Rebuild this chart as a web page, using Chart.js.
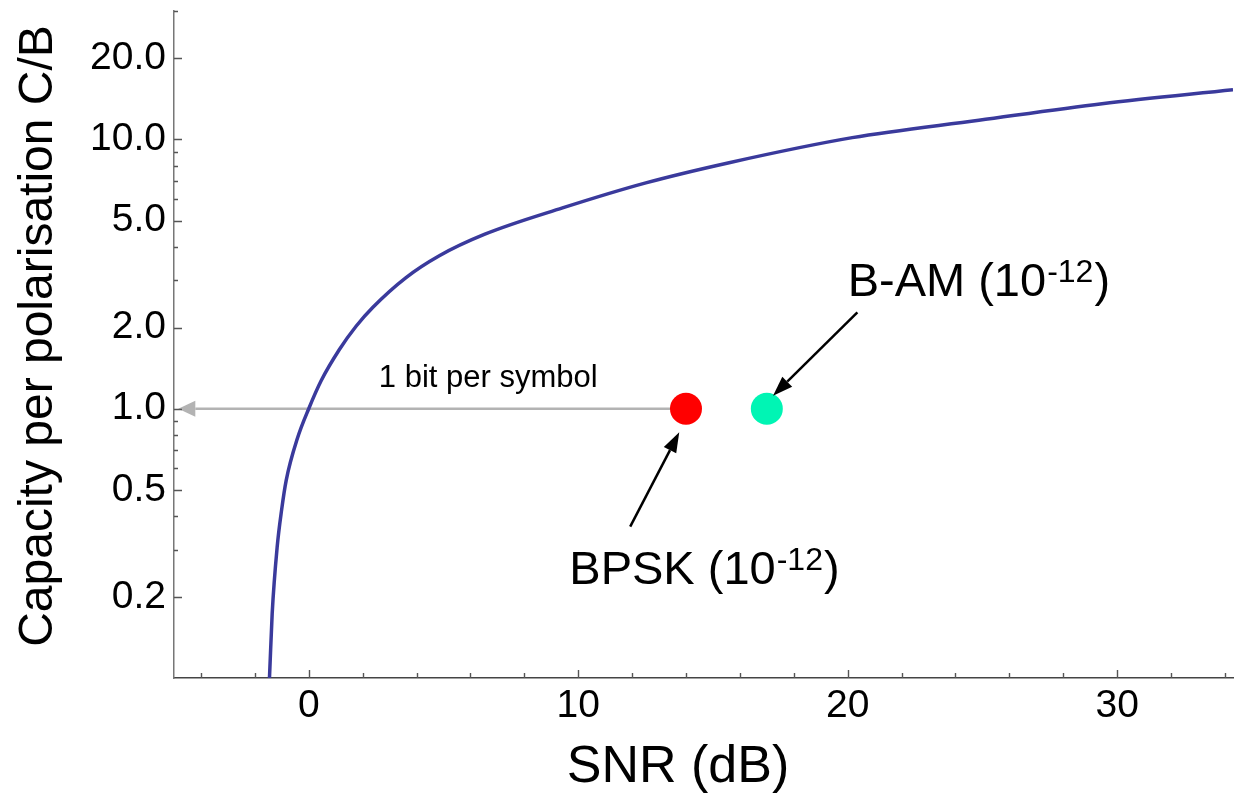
<!DOCTYPE html>
<html>
<head>
<meta charset="utf-8">
<title>Capacity per polarisation vs SNR</title>
<script src="https://cdn.jsdelivr.net/npm/chart.js@4.4.1/dist/chart.umd.min.js"></script>
<style>
    html, body { margin: 0; padding: 0; background: #fff; }
</style>
</head>
<body>
<canvas id="capacityChart" width="1234" height="810"></canvas>
<script>
// Capacity curve, SNR in dB against C/B (log axis)
const snrDb = [-1.52, -1.457, -1.357, -1.172, -1.005, -0.838, -0.419, 0.00, 0.46, 1.138, 1.757, 2.373, 3.611, 4.846, 6.515, 9.418, 12.51, 15.60, 20.17, 24.87, 29.44, 34.30];
const capacity = [0.075, 0.10, 0.173, 0.306, 0.422, 0.541, 0.777, 1.00, 1.27, 1.659, 2.024, 2.377, 3.07, 3.70, 4.44, 5.57, 6.90, 8.20, 10.16, 11.79, 13.58, 15.29];

// Modulation points at 1 bit per symbol
const pointNames = ['BPSK', 'B-AM'];
const pointSnr = [14, 17];
const pointCap = [1, 1];
const pointColors = ['#ff0000', '#00f5b4'];

// Axis ticks
const xMajorTicks = [0, 10, 20, 30];
const xMinorTicks = [-4, -2, 2, 4, 6, 8, 12, 14, 16, 18, 22, 24, 26, 28, 32, 34];
const yMajorTicks = [0.2, 0.5, 1, 2, 5, 10, 20];
const yMinorTicks = [0.3, 0.4, 0.6, 0.7, 0.8, 0.9, 3, 4, 6, 7, 8, 9, 30];

const FONT = '"Liberation Sans", Arial, Helvetica, sans-serif';

// "1 bit per symbol" arrow back to the axis
const bitArrow = { from: [14, 1], to: [-4.84, 1], label: '1 bit per symbol', labelAt: [6.66, 1.207] };

// Labelled pointers to the two modulation points
const pointers = [
    { text: 'B-AM (10', sup: '-12', tail: ')', textAt: [20.0, 2.63], from: [20.36, 2.28], to: [17.23, 1.117] },
    { text: 'BPSK (10', sup: '-12', tail: ')', textAt: [9.67, 0.224], from: [11.93, 0.365], to: [13.75, 0.817] }
];

function drawArrow(ctx, x1, y1, x2, y2, color, width, headLen, headHalf) {
    const ang = Math.atan2(y2 - y1, x2 - x1);
    const bx = x2 - headLen * Math.cos(ang);
    const by = y2 - headLen * Math.sin(ang);
    ctx.save();
    ctx.strokeStyle = color;
    ctx.lineWidth = width;
    ctx.beginPath();
    ctx.moveTo(x1, y1);
    ctx.lineTo(bx, by);
    ctx.stroke();
    ctx.fillStyle = color;
    ctx.beginPath();
    ctx.moveTo(x2, y2);
    ctx.lineTo(bx + headHalf * Math.sin(ang), by - headHalf * Math.cos(ang));
    ctx.lineTo(bx - headHalf * Math.sin(ang), by + headHalf * Math.cos(ang));
    ctx.closePath();
    ctx.fill();
    ctx.restore();
}

function drawSupLabel(ctx, x, y, item) {
    ctx.save();
    ctx.fillStyle = '#000';
    ctx.textAlign = 'left';
    ctx.textBaseline = 'alphabetic';
    ctx.font = '47px ' + FONT;
    ctx.fillText(item.text, x, y);
    let w = ctx.measureText(item.text).width + 1;
    ctx.font = '32px ' + FONT;
    ctx.fillText(item.sup, x + w, y - 14);
    w += ctx.measureText(item.sup).width + 1;
    ctx.font = '47px ' + FONT;
    ctx.fillText(item.tail, x + w, y);
    ctx.restore();
}

// Inward tick marks, like a framed scientific plot
const inwardTicks = {
    id: 'inwardTicks',
    afterDraw(chart) {
        const { ctx, chartArea, scales: { x, y } } = chart;
        ctx.save();
        ctx.strokeStyle = '#555';
        ctx.lineWidth = 1.4;
        ctx.beginPath();
        xMajorTicks.concat(xMinorTicks).forEach(v => {
            const px = Math.round(x.getPixelForValue(v)) + 0.5;
            const len = xMajorTicks.includes(v) ? 8 : 5;
            ctx.moveTo(px, chartArea.bottom);
            ctx.lineTo(px, chartArea.bottom - len);
        });
        yMajorTicks.concat(yMinorTicks).forEach(v => {
            const py = Math.round(y.getPixelForValue(v)) + 0.5;
            const len = yMajorTicks.includes(v) ? 8 : 4;
            ctx.moveTo(chartArea.left, py);
            ctx.lineTo(chartArea.left + len, py);
        });
        ctx.stroke();
        ctx.restore();
    }
};

const annotations = {
    id: 'annotations',
    beforeDatasetsDraw(chart) {
        const { ctx, scales: { x, y } } = chart;
        drawArrow(ctx,
            x.getPixelForValue(bitArrow.from[0]), y.getPixelForValue(bitArrow.from[1]),
            x.getPixelForValue(bitArrow.to[0]), y.getPixelForValue(bitArrow.to[1]),
            '#b3b3b3', 2.5, 17, 8);
        ctx.save();
        ctx.fillStyle = '#000';
        ctx.font = '31px ' + FONT;
        ctx.textAlign = 'center';
        ctx.textBaseline = 'alphabetic';
        ctx.fillText(bitArrow.label, x.getPixelForValue(bitArrow.labelAt[0]), y.getPixelForValue(bitArrow.labelAt[1]));
        ctx.restore();
    },
    afterDatasetsDraw(chart) {
        const { ctx, scales: { x, y } } = chart;
        pointers.forEach(p => {
            drawArrow(ctx,
                x.getPixelForValue(p.from[0]), y.getPixelForValue(p.from[1]),
                x.getPixelForValue(p.to[0]), y.getPixelForValue(p.to[1]),
                '#000', 2.5, 20, 7);
            drawSupLabel(ctx, x.getPixelForValue(p.textAt[0]), y.getPixelForValue(p.textAt[1]), p);
        });
    },
    afterDraw(chart) {
        const { ctx } = chart;
        ctx.save();
        ctx.fillStyle = '#000';
        ctx.textAlign = 'center';
        ctx.textBaseline = 'alphabetic';
        ctx.font = '52px ' + FONT;
        ctx.fillText('SNR (dB)', 678, 782);
        ctx.translate(52, 336);
        ctx.rotate(-Math.PI / 2);
        ctx.font = '48px ' + FONT;
        ctx.fillText('Capacity per polarisation C/B', 0, 0);
        ctx.restore();
    }
};

// Pin the axis box sizes so the plot frame sits where it should
function noPadding(scale) {
    scale.paddingTop = 0;
    scale.paddingBottom = 0;
    scale.paddingLeft = 0;
    scale.paddingRight = 0;
}

const ctx = document.getElementById('capacityChart').getContext('2d');
new Chart(ctx, {
    type: 'line',
    data: {
        datasets: [
            {
                label: 'Capacity',
                data: snrDb.map((v, i) => ({ x: v, y: capacity[i] })),
                borderColor: '#3a3a9c',
                borderWidth: 3.5,
                pointRadius: 0,
                fill: false,
                cubicInterpolationMode: 'monotone',
                order: 2
            },
            {
                type: 'scatter',
                label: 'Modulation',
                data: pointSnr.map((v, i) => ({ x: v, y: pointCap[i] })),
                backgroundColor: pointColors,
                borderWidth: 0,
                pointRadius: 16,
                pointHoverRadius: 16,
                order: 1
            }
        ]
    },
    options: {
        responsive: false,
        animation: false,
        events: [],
        layout: { autoPadding: false, padding: { top: 11, right: 1, left: 0, bottom: 0 } },
        plugins: {
            legend: { display: false },
            tooltip: { enabled: false }
        },
        scales: {
            x: {
                type: 'linear',
                min: -5,
                max: 34.3,
                grid: { display: false, drawTicks: false },
                border: { display: true, color: '#444', width: 1.5 },
                afterBuildTicks: scale => { scale.ticks = xMajorTicks.map(v => ({ value: v })); },
                afterFit: scale => { scale.height = 132; noPadding(scale); },
                ticks: {
                    color: '#000',
                    padding: 5,
                    maxRotation: 0,
                    font: { family: FONT, size: 39 },
                    callback: v => String(v)
                }
            },
            y: {
                type: 'logarithmic',
                min: 0.1,
                max: 30,
                grid: { display: false, drawTicks: false },
                border: { display: true, color: '#777', width: 1.5 },
                afterBuildTicks: scale => { scale.ticks = yMajorTicks.map(v => ({ value: v })); },
                afterFit: scale => { scale.width = 174; noPadding(scale); },
                ticks: {
                    color: '#000',
                    padding: 8,
                    font: { family: FONT, size: 39 },
                    callback: v => Number(v).toFixed(1)
                }
            }
        }
    },
    plugins: [inwardTicks, annotations]
});
</script>
</body>
</html>
